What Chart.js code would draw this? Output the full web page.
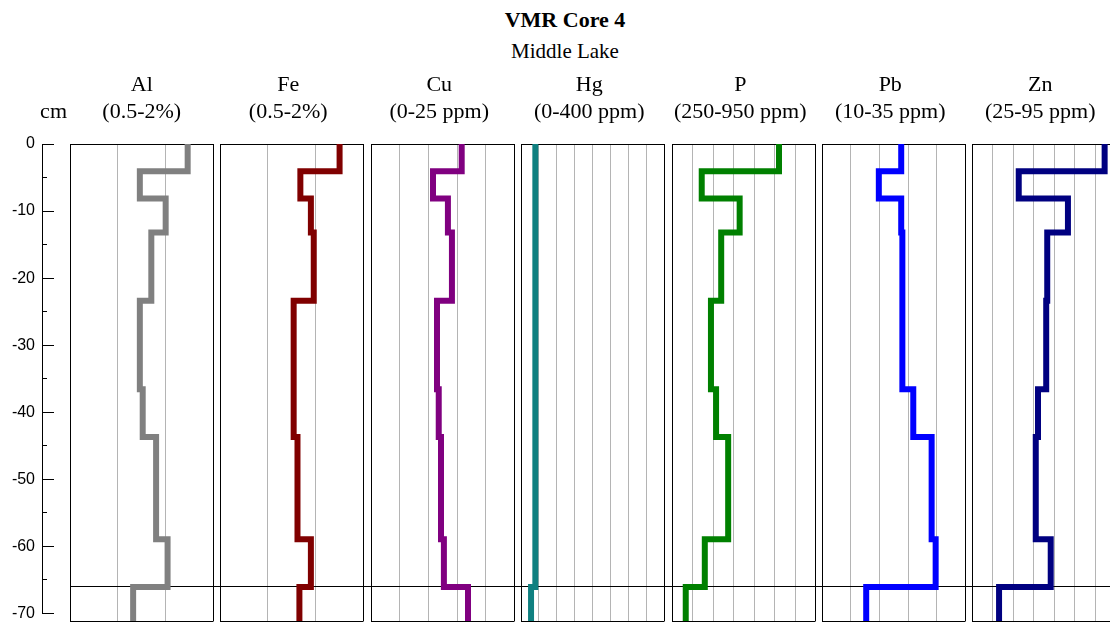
<!DOCTYPE html>
<html>
<head>
<meta charset="utf-8">
<script src="https://cdn.jsdelivr.net/npm/chart.js@4.4.0/dist/chart.umd.min.js"></script>
<style>
  html, body { margin: 0; padding: 0; background: #fff; overflow: hidden; }
  #wrap { position: relative; width: 1110px; height: 630px; overflow: hidden; background: #fff; }
  #wrap canvas { position: absolute; top: 0; }
  .head { position: absolute; left: 415px; width: 300px; text-align: center; color: #000;
          font-family: "Liberation Serif", "Times New Roman", serif; line-height: 1; }
  #title { top: 9px; font-size: 22px; font-weight: bold; }
  #subtitle { top: 41px; font-size: 21px; }
</style>
</head>
<body>
<div id="wrap">
  <div class="head" id="title">VMR Core 4</div>
  <div class="head" id="subtitle">Middle Lake</div>
</div>
<script>
// sample interval boundaries (cm)
const depths = [0, -4, -8, -13, -23, -36, -43, -58, -65, -70];
const markerDepth = -65;

const elements = ['Al', 'Fe', 'Cu', 'Hg', 'P', 'Pb', 'Zn'];
const rangeLabels = ['(0.5-2%)', '(0.5-2%)', '(0-25 ppm)', '(0-400 ppm)', '(250-950 ppm)', '(10-35 ppm)', '(25-95 ppm)'];
const axisMin = [0.5, 0.5, 0, 0, 250, 10, 25];
const axisMax = [2, 2, 25, 400, 950, 35, 95];
const gridStep = [0.5, 0.5, 5, 50, 100, 5, 10];
const colors = ['#808080', '#800000', '#800080', '#0f8080', '#008000', '#0000ff', '#000080'];

// one value per depth interval, top to bottom
const alValues = [1.73, 1.23, 1.50, 1.35, 1.23, 1.26, 1.40, 1.52, 1.16];
const feValues = [1.75, 1.34, 1.45, 1.48, 1.27, 1.27, 1.31, 1.45, 1.33];
const cuValues = [15.8, 10.8, 13.4, 14.1, 11.5, 11.8, 12.2, 12.7, 16.9];
const hgValues = [40, 40, 40, 40, 40, 40, 40, 40, 28];
const pValues  = [772, 395, 580, 490, 440, 465, 524, 410, 317];
const pbValues = [23.8, 19.9, 23.8, 24.0, 24.0, 25.9, 29.1, 29.8, 17.7];
const znValues = [89.7, 47.8, 71.8, 61.7, 61.2, 57.2, 56.1, 63.4, 38.2];
const values = [alValues, feValues, cuValues, hgValues, pValues, pbValues, znValues];

const wrap = document.getElementById('wrap');
const H = 630;
const PANEL_LEFT = 70, PANEL_PITCH = 150.4, PANEL_W = 143.5, GAP_TICK = 7;
const headFont = { family: '"Liberation Serif", "Times New Roman", serif', size: 22, weight: 'normal', lineHeight: 27 / 22 };
const headPadding = { top: 72, bottom: 18 };
const transparent = 'rgba(0,0,0,0)';

function makeCanvas(left, width) {
    const c = document.createElement('canvas');
    c.width = width;
    c.height = H;
    c.style.left = left + 'px';
    c.style.width = width + 'px';
    c.style.height = H + 'px';
    wrap.appendChild(c);
    return c;
}

function profilePoints(vals) {
    const pts = [];
    vals.forEach((v, i) => {
        pts.push({ x: v, y: depths[i] });
        pts.push({ x: v, y: depths[i + 1] });
    });
    return pts;
}

// depth axis on the left
new Chart(makeCanvas(0, 67), {
    type: 'scatter',
    data: { datasets: [] },
    options: {
        responsive: false, animation: false, events: [],
        layout: { padding: { top: 0, bottom: 9, left: 0, right: 0 } },
        plugins: {
            legend: { display: false }, tooltip: { enabled: false },
            title: { display: true, text: ['', 'cm'], align: 'end', color: '#000', font: headFont, padding: headPadding }
        },
        scales: {
            x: { display: false, min: 0, max: 1 },
            y: {
                position: 'left', min: -70, max: 0,
                afterFit: s => { s.width = 42; },
                ticks: {
                    stepSize: 5, padding: 7, autoSkip: false, color: '#000',
                    font: { family: '"Liberation Sans", Arial, sans-serif', size: 16 },
                    callback: v => (v % 10 === 0 ? v : '')
                },
                grid: { drawTicks: false, color: '#000', lineWidth: 1 },
                border: { display: true, color: '#000', width: 1 }
            },
            y2: {
                position: 'right', min: -70, max: 0,
                afterFit: s => { s.width = 20; },
                ticks: { display: false, stepSize: 5, autoSkip: false },
                grid: {
                    drawOnChartArea: false, drawTicks: true, tickLength: 7, lineWidth: 1,
                    tickColor: c => (c.tick && c.tick.value % 10 === 0 ? '#000' : transparent)
                },
                border: { display: false }
            }
        }
    }
});

elements.forEach((el, i) => {
    const tl = i === 0 ? 0 : GAP_TICK;
    const left = Math.round(PANEL_LEFT + i * PANEL_PITCH) - tl;
    const min = axisMin[i], max = axisMax[i], step = gridStep[i];
    const n = Math.round((max - min) / step);
    const tickValues = [];
    for (let k = 0; k <= n; k++) tickValues.push(min + k * step);

    new Chart(makeCanvas(left, tl + 145), {
        type: 'scatter',
        data: {
            datasets: [{
                data: profilePoints(values[i]),
                showLine: true,
                borderColor: colors[i],
                borderWidth: 6,
                pointRadius: 0,
                fill: false,
                borderJoinStyle: 'miter',
                borderCapStyle: 'butt'
            }]
        },
        options: {
            responsive: false, animation: false, events: [],
            layout: { padding: { top: 0, bottom: 9, left: 0, right: 1.5 } },
            plugins: {
                legend: { display: false }, tooltip: { enabled: false },
                title: { display: true, text: [el, rangeLabels[i]], color: '#000', font: headFont, padding: headPadding }
            },
            scales: {
                x: {
                    type: 'linear', position: 'bottom', min: min, max: max,
                    afterBuildTicks: s => { s.ticks = tickValues.map(v => ({ value: v })); },
                    ticks: { display: false },
                    grid: {
                        drawTicks: false, lineWidth: 1,
                        color: c => (c.index === 0 || c.index === n ? '#000' : '#b4b4b4')
                    },
                    border: { display: false }
                },
                y: {
                    type: 'linear', min: -70, max: 0,
                    ticks: { display: false, stepSize: 5, autoSkip: false },
                    grid: {
                        drawTicks: i > 0, tickLength: GAP_TICK, lineWidth: 1,
                        color: c => {
                            const v = c.tick ? c.tick.value : null;
                            return (v === 0 || v === -70 || v === markerDepth) ? '#000' : transparent;
                        },
                        tickColor: c => (c.tick && c.tick.value === markerDepth ? '#000' : transparent)
                    },
                    border: { display: false }
                }
            }
        }
    });
});
</script>
</body>
</html>
